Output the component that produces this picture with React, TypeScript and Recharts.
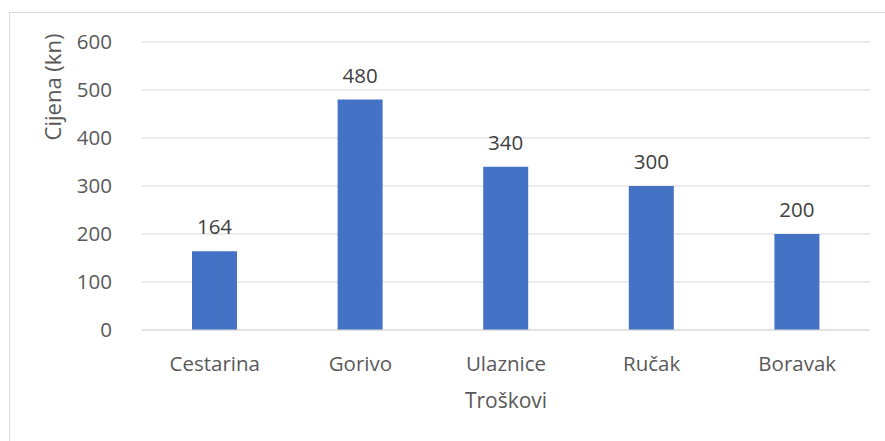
import React from "react";
import { BarChart, Bar, XAxis, YAxis, CartesianGrid, LabelList, Label } from "recharts";

const categories = ["Cestarina", "Gorivo", "Ulaznice", "Ručak", "Boravak"];
const costs = [164, 480, 340, 300, 200];
const yTicks = [0, 100, 200, 300, 400, 500, 600];

const data = categories.map((name, i) => ({ name, value: costs[i] }));

const FONT = "'Open Sans', 'Liberation Sans', sans-serif";
const TEXT = "#595959";

const YTitle = (props: any) => {
  const cx = 52;
  const cy = 87;
  return (
    <text
      x={cx}
      y={cy}
      transform={`rotate(-90, ${cx}, ${cy})`}
      textAnchor="middle"
      dominantBaseline="central"
      fill={TEXT}
      style={{ fontSize: 22, fontFamily: FONT }}
    >
      Cijena (kn)
    </text>
  );
};

export default function App() {
  return (
    <div style={{ position: "absolute", left: 0, top: 0, width: 885, height: 441, background: "#fff" }}>
      <div
        style={{
          position: "absolute",
          left: 9,
          top: 12,
          width: 885,
          height: 441,
          borderTop: "1px solid #d9d9d9",
          borderLeft: "1px solid #d9d9d9",
          boxSizing: "border-box",
        }}
      />
      <div style={{ position: "absolute", left: 0, top: 0 }}>
        <BarChart
          width={885}
          height={441}
          data={data}
          margin={{ top: 42, right: 15, bottom: 0, left: 0 }}
          barSize={45}
        >
          <CartesianGrid vertical={false} stroke="#d9d9d9" strokeWidth={1} />
          <XAxis
            dataKey="name"
            axisLine={{ stroke: "#d9d9d9" }}
            tickLine={false}
            tick={{ fill: TEXT, fontSize: 20.5, fontFamily: FONT }}
            tickMargin={20}
            height={111}
          >
            <Label
              value="Troškovi"
              position="insideTop"
              offset={63}
              fill={TEXT}
              fontSize={21}
              fontFamily={FONT}
            />
          </XAxis>
          <YAxis
            width={142}
            domain={[0, 600]}
            ticks={yTicks}
            axisLine={false}
            tickLine={false}
            tick={{ fill: TEXT, fontSize: 20.5, fontFamily: FONT }}
            tickMargin={24}
          >
            <Label content={<YTitle />} />
          </YAxis>
          <Bar dataKey="value" fill="#4472C4" isAnimationActive={false}>
            <LabelList
              dataKey="value"
              position="top"
              offset={17}
              fill="#404040"
              fontSize={20.5}
              fontFamily={FONT}
            />
          </Bar>
        </BarChart>
      </div>
    </div>
  );
}
